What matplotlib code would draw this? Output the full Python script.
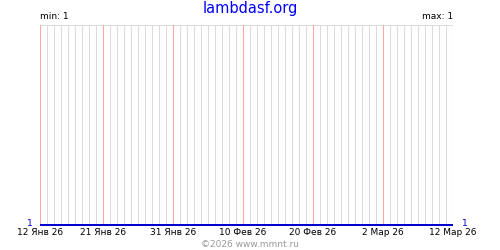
import datetime as dt
import matplotlib
matplotlib.use("Agg")
import matplotlib.pyplot as plt

start = dt.date(2026, 1, 12)
end = dt.date(2026, 3, 12)
tick_dates = [dt.date(2026, 1, 12), dt.date(2026, 1, 21), dt.date(2026, 1, 31),
              dt.date(2026, 2, 10), dt.date(2026, 2, 20), dt.date(2026, 3, 2),
              dt.date(2026, 3, 12)]
tick_labels = ["12 Янв 26", "21 Янв 26", "31 Янв 26", "10 Фев 26",
               "20 Фев 26", "2 Мар 26", "12 Мар 26"]
days = [start + dt.timedelta(days=i) for i in range((end - start).days + 1)]
values = [1, 1, 1, 1, 1, 1, 1, 1, 1, 1, 1, 1, 1, 1, 1, 1, 1, 1, 1, 1,
          1, 1, 1, 1, 1, 1, 1, 1, 1, 1, 1, 1, 1, 1, 1, 1, 1, 1, 1, 1,
          1, 1, 1, 1, 1, 1, 1, 1, 1, 1, 1, 1, 1, 1, 1, 1, 1, 1, 1, 1]

fig = plt.figure(figsize=(5, 2.5), dpi=100)
ax = fig.add_axes([0.08, 0.1, 0.826, 0.8])

# daily grid, red every tick date
for d in days:
    red = d in tick_dates
    ax.axvline(d, color="#ffa8a8" if red else "#dcdcdc", lw=0.8,
               zorder=2 if red else 1, snap=True)
ax.axhline(2, color="#dcdcdc", lw=0.8, zorder=1, snap=True)

ax.plot(days, values, color="#0000cc", lw=1.44, zorder=3,
        solid_capstyle="butt", clip_on=False, snap=True)

ax.set_xlim(start, end)
ax.set_ylim(1, 2)
for s in ax.spines.values():
    s.set_visible(False)
ax.set_yticks([])
ax.set_xticks(tick_dates)
ax.set_xticklabels(tick_labels, fontsize=6.5)
ax.tick_params(axis="x", length=0, pad=2.5)

ax.text(-0.017, 0.01, "1", transform=ax.transAxes, ha="right", va="center",
        color="#0000cc", fontsize=6.5)
ax.text(1.022, 0.01, "1", transform=ax.transAxes, ha="left", va="center",
        color="#0000cc", fontsize=6.5)
ax.text(0, 1.02, "min: 1", transform=ax.transAxes, ha="left", va="bottom",
        fontsize=6.5)
ax.text(1, 1.02, "max: 1", transform=ax.transAxes, ha="right", va="bottom",
        fontsize=6.5)

fig.text(0.5, 0.995, "lambdasf.org", ha="center", va="top", color="#0000ff",
         fontsize=10.5)
fig.text(0.5, 0.005, "©2026 www.mmnt.ru", ha="center", va="bottom",
         color="#999999", fontsize=6.5)

fig.savefig("out.png", dpi=100)
